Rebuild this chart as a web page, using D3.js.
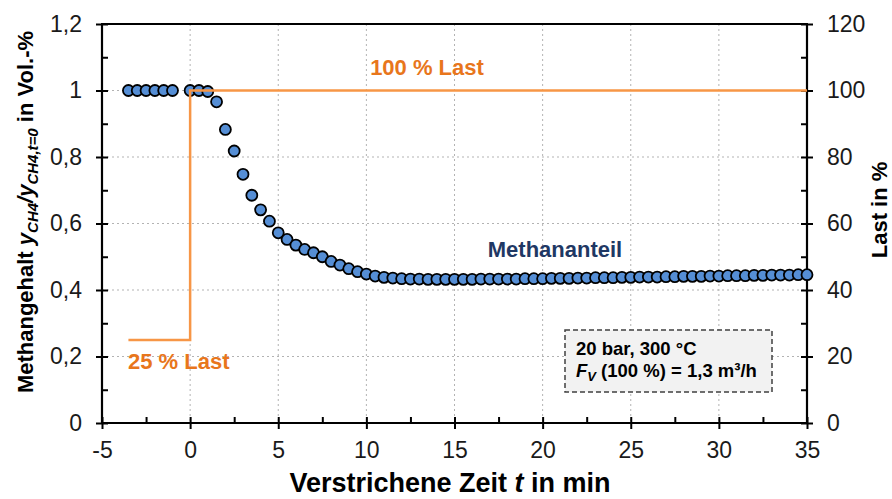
<!DOCTYPE html>
<html>
<head>
<meta charset="utf-8">
<script src="https://cdn.jsdelivr.net/npm/d3@7"></script>
<style>
  html, body { margin: 0; padding: 0; background: #fff; }
  svg { display: block; font-family: "Liberation Sans", Arial, sans-serif; }
</style>
</head>
<body>
<svg id="chart" width="892" height="499"></svg>
<script>
// Methane fraction (normalised) over elapsed time, measured every 0.5 min
const methaneTime = [
  -3.5, -3.0, -2.5, -2.0, -1.5, -1.0,
  0.0, 0.5, 1.0, 1.5, 2.0, 2.5, 3.0, 3.5, 4.0, 4.5, 5.0,
  5.5, 6.0, 6.5, 7.0, 7.5, 8.0, 8.5, 9.0, 9.5, 10.0,
  10.5, 11.0, 11.5, 12.0, 12.5, 13.0, 13.5, 14.0, 14.5, 15.0,
  15.5, 16.0, 16.5, 17.0, 17.5, 18.0, 18.5, 19.0, 19.5, 20.0,
  20.5, 21.0, 21.5, 22.0, 22.5, 23.0, 23.5, 24.0, 24.5, 25.0,
  25.5, 26.0, 26.5, 27.0, 27.5, 28.0, 28.5, 29.0, 29.5, 30.0,
  30.5, 31.0, 31.5, 32.0, 32.5, 33.0, 33.5, 34.0, 34.5, 35.0
];
const methaneRatio = [
  1.000, 1.000, 1.000, 1.000, 1.000, 1.000,
  1.000, 1.000, 0.997, 0.966, 0.883, 0.818, 0.748, 0.685, 0.641, 0.607, 0.572,
  0.552, 0.535, 0.522, 0.512, 0.500, 0.486, 0.475, 0.464, 0.455, 0.448,
  0.442, 0.438, 0.436, 0.434, 0.433, 0.433, 0.432, 0.432, 0.432, 0.432,
  0.432, 0.432, 0.433, 0.433, 0.433, 0.433, 0.433, 0.434, 0.434, 0.434,
  0.435, 0.435, 0.435, 0.436, 0.436, 0.437, 0.437, 0.437, 0.438, 0.438,
  0.439, 0.439, 0.439, 0.440, 0.440, 0.441, 0.441, 0.441, 0.442, 0.442,
  0.443, 0.443, 0.443, 0.444, 0.444, 0.445, 0.445, 0.445, 0.446, 0.446
];

// Load step profile (right axis)
const loadTime = [-3.5, 0, 0, 35];
const loadPercent = [25, 25, 100, 100];

// Axis ticks
const xTicks = [-5, 0, 5, 10, 15, 20, 25, 30, 35];
const xMinorTicks = [-2.5, 2.5, 7.5, 12.5, 17.5, 22.5, 27.5, 32.5];
const yTicks = [0, 0.2, 0.4, 0.6, 0.8, 1.0, 1.2];
const yMinorTicks = [0.1, 0.3, 0.5, 0.7, 0.9, 1.1];
const y2Ticks = [0, 20, 40, 60, 80, 100, 120];
const y2MinorTicks = [10, 30, 50, 70, 90, 110];

const svg = d3.select("#chart");
const plotL = 102, plotR = 807, plotT = 24, plotB = 423;

const x = d3.scaleLinear().domain([-5, 35]).range([plotL, plotR]);
const y = d3.scaleLinear().domain([0, 1.2]).range([plotB, plotT]);
const y2 = d3.scaleLinear().domain([0, 120]).range([plotB, plotT]);

const fmt = d => String(d).replace(".", ",");

// Dotted gridlines
const grid = svg.append("g");
grid.selectAll("line.v").data(xTicks.filter(d => d > -5 && d < 35)).join("line")
  .attr("class", "v")
  .attr("x1", d => x(d)).attr("x2", d => x(d))
  .attr("y1", plotT).attr("y2", plotB)
  .attr("stroke", "#b3b3b3").attr("stroke-width", 1).attr("stroke-dasharray", "2,3");
grid.selectAll("line.h").data(yTicks.filter(d => d > 0 && d < 1.2)).join("line")
  .attr("class", "h")
  .attr("x1", plotL).attr("x2", plotR)
  .attr("y1", d => y(d)).attr("y2", d => y(d))
  .attr("stroke", "#b3b3b3").attr("stroke-width", 1).attr("stroke-dasharray", "2,3");

// Axes
function styleAxis(g) {
  g.select(".domain").remove();
  g.selectAll(".tick line").attr("stroke", "#000").attr("stroke-width", 2);
  g.selectAll(".tick text").attr("fill", "#1a1a1a").attr("font-size", 23)
    .attr("font-family", "Liberation Sans, Arial, sans-serif");
}

// bottom
const gx = svg.append("g").attr("transform", `translate(0,${plotB})`)
  .call(d3.axisBottom(x).tickValues(xTicks).tickFormat(fmt).tickSize(6).tickPadding(13));
gx.call(styleAxis);
gx.selectAll(".tick line").attr("y1", -6);
svg.append("g").attr("transform", `translate(0,${plotB})`)
  .call(d3.axisBottom(x).tickValues(xMinorTicks).tickFormat("").tickSize(-6))
  .call(styleAxis);

// left
const gy = svg.append("g").attr("transform", `translate(${plotL},0)`)
  .call(d3.axisLeft(y).tickValues(yTicks).tickFormat(fmt).tickSize(6).tickPadding(14));
gy.call(styleAxis);
gy.selectAll(".tick line").attr("x1", 6);
svg.append("g").attr("transform", `translate(${plotL},0)`)
  .call(d3.axisLeft(y).tickValues(yMinorTicks).tickFormat("").tickSize(-6))
  .call(styleAxis);

// right
const gy2 = svg.append("g").attr("transform", `translate(${plotR},0)`)
  .call(d3.axisRight(y2).tickValues(y2Ticks).tickSize(6).tickPadding(14));
gy2.call(styleAxis);
gy2.selectAll(".tick line").attr("x1", -6);
svg.append("g").attr("transform", `translate(${plotR},0)`)
  .call(d3.axisRight(y2).tickValues(y2MinorTicks).tickFormat("").tickSize(-6))
  .call(styleAxis);

// frame lines
const frame = svg.append("g").attr("stroke", "#000").attr("stroke-width", 2.2).attr("fill", "none");
frame.append("line").attr("x1", plotL - 1).attr("x2", plotR + 1).attr("y1", plotT).attr("y2", plotT);
frame.append("line").attr("x1", plotL - 1).attr("x2", plotR + 1).attr("y1", plotB).attr("y2", plotB);
frame.append("line").attr("x1", plotL).attr("x2", plotL).attr("y1", plotT).attr("y2", plotB);
frame.append("line").attr("x1", plotR).attr("x2", plotR).attr("y1", plotT).attr("y2", plotB);

// Methane markers
svg.append("g").selectAll("circle").data(methaneTime.map((t, i) => [t, methaneRatio[i]])).join("circle")
  .attr("cx", d => x(d[0])).attr("cy", d => y(d[1])).attr("r", 5.5)
  .attr("fill", "#558ED5").attr("stroke", "#000").attr("stroke-width", 1.8);

// Load line
const loadLine = d3.line().x(d => x(d[0])).y(d => y2(d[1]));
svg.append("path").datum(loadTime.map((t, i) => [t, loadPercent[i]]))
  .attr("d", loadLine).attr("fill", "none").attr("stroke", "#F79646").attr("stroke-width", 2.5);

// Annotations
const orange = "#E8761C";
svg.append("text").attr("x", 427).attr("y", 75).attr("text-anchor", "middle")
  .attr("font-size", 22).attr("font-weight", "bold").attr("fill", orange).text("100 % Last");
svg.append("text").attr("x", 128).attr("y", 369).attr("text-anchor", "start")
  .attr("font-size", 22).attr("font-weight", "bold").attr("fill", orange).text("25 % Last");
svg.append("text").attr("x", 555).attr("y", 257).attr("text-anchor", "middle")
  .attr("font-size", 22).attr("font-weight", "bold").attr("fill", "#1F3864").text("Methananteil");

// Conditions box
svg.append("rect").attr("x", 565).attr("y", 330).attr("width", 207).attr("height", 62)
  .attr("fill", "#F2F2F2").attr("stroke", "#404040").attr("stroke-width", 1.5).attr("stroke-dasharray", "5,3");
svg.append("text").attr("x", 576).attr("y", 355).attr("font-size", 18.5).attr("font-weight", "bold")
  .attr("fill", "#000").text("20 bar, 300 °C");
const t2 = svg.append("text").attr("x", 576).attr("y", 377).attr("font-size", 18.5).attr("font-weight", "bold").attr("fill", "#000");
t2.append("tspan").attr("font-style", "italic").text("F");
t2.append("tspan").attr("font-style", "italic").attr("font-size", 13).attr("dy", 4).text("V");
t2.append("tspan").attr("dy", -4).text(" (100 %) = 1,3 m³/h");

// Axis titles
svg.append("text").attr("x", 450).attr("y", 492).attr("text-anchor", "middle")
  .attr("font-size", 27).attr("font-weight", "bold").attr("fill", "#000")
  .call(t => {
    t.append("tspan").text("Verstrichene Zeit ");
    t.append("tspan").attr("font-style", "italic").text("t");
    t.append("tspan").text(" in min");
  });

const yl = svg.append("text").attr("transform", "translate(33,212) rotate(-90)")
  .attr("text-anchor", "middle").attr("font-size", 22).attr("font-weight", "bold").attr("fill", "#000");
yl.append("tspan").text("Methangehalt ");
yl.append("tspan").attr("font-style", "italic").text("y");
yl.append("tspan").attr("font-style", "italic").attr("font-size", 15).attr("dy", 5).text("CH4");
yl.append("tspan").attr("font-style", "italic").attr("dy", -5).text("/y");
yl.append("tspan").attr("font-style", "italic").attr("font-size", 15).attr("dy", 5).text("CH4,t=0");
yl.append("tspan").attr("dy", -5).text(" in Vol.-%");

svg.append("text").attr("transform", "translate(887,210) rotate(-90)")
  .attr("text-anchor", "middle").attr("font-size", 22).attr("font-weight", "bold").attr("fill", "#000")
  .text("Last in %");
</script>
</body>
</html>
